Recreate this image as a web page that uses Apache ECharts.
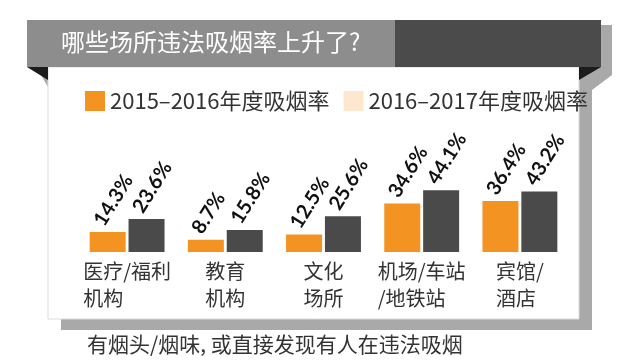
<!DOCTYPE html>
<html>
<head>
<meta charset="utf-8">
<script src="https://cdn.jsdelivr.net/npm/echarts@6/dist/echarts.min.js"></script>
<style>
html,body{margin:0;padding:0;background:#fff;}
#chart{width:640px;height:360px;}
</style>
</head>
<body>
<div id="chart"></div>
<script>
const titleText = '哪些场所违法吸烟率上升了?';
const footnote = '有烟头/烟味, 或直接发现有人在违法吸烟';
const categories = ['医疗/福利\n机构', '教育\n机构', '文化\n场所', '机场/车站\n/地铁站', '宾馆/\n酒店'];
const seriesNames = ['2015–2016年度吸烟率', '2016–2017年度吸烟率'];
const rate1516 = [14.3, 8.7, 12.5, 34.6, 36.4];
const rate1617 = [23.6, 15.8, 25.6, 44.1, 43.2];

const CJK = '"Noto Sans CJK SC", "Noto Sans", sans-serif';
const chart = echarts.init(document.getElementById('chart'), null, {renderer: 'canvas'});

const barLabel = {
  show: true,
  position: [9, -8],
  align: 'left',
  verticalAlign: 'middle',
  rotate: 58,
  color: '#111',
  fontFamily: 'Lato, "DejaVu Sans", sans-serif',
  fontWeight: 'bold',
  fontSize: 20,
  formatter: p => p.value + '%'
};

chart.setOption({
  backgroundColor: '#ffffff',
  animation: false,
  graphic: [
    {type: 'rect', z: 0, shape: {x: 40, y: 25, width: 572, height: 50}, style: {fill: '#a9a9a9'}},
    {type: 'polygon', z: 0, shape: {points: [[579, 75], [612, 75], [592, 90], [579, 90]]}, style: {fill: '#a9a9a9'}},
    {type: 'rect', z: 0, shape: {x: 61, y: 75, width: 531, height: 255}, style: {fill: '#a9a9a9'}},
    {type: 'polygon', z: 0, shape: {points: [[38, 70], [48, 76], [48, 87]]}, style: {fill: '#a9a9a9'}},
    {type: 'rect', z: 0, shape: {x: 48, y: 67, width: 531, height: 252}, style: {fill: '#ffffff', stroke: '#dcdcdc', lineWidth: 1}},
    {type: 'rect', z: 0, shape: {x: 27, y: 20, width: 368, height: 47}, style: {fill: '#8d8d8d'}},
    {type: 'rect', z: 0, shape: {x: 395, y: 20, width: 206, height: 47}, style: {fill: '#4b4b4b'}},
    {type: 'polygon', z: 0, shape: {points: [[27, 67], [48, 67], [48, 80]]}, style: {fill: '#1c1c1c'}},
    {type: 'polygon', z: 0, shape: {points: [[579, 67], [601, 67], [579, 80]]}, style: {fill: '#1c1c1c'}}
  ],
  title: [
    {text: titleText, left: 61, top: 30, padding: 0,
     textStyle: {color: '#ffffff', fontSize: 24, fontWeight: 'normal', fontFamily: CJK}},
    {text: footnote, left: 87, top: 334, padding: 0,
     textStyle: {color: '#333333', fontSize: 21, fontWeight: 'normal', fontFamily: CJK}}
  ],
  legend: {
    left: 85, top: 90, padding: 0,
    icon: 'rect', itemWidth: 20, itemHeight: 20, itemGap: 14,
    textStyle: {color: '#333333', fontSize: 22, fontFamily: CJK},
    data: [
      {name: seriesNames[0], itemStyle: {color: '#f39322'}},
      {name: seriesNames[1], itemStyle: {color: '#fde8cf'}}
    ]
  },
  grid: {left: 78, right: 71, top: 182, bottom: 108, containLabel: false},
  xAxis: {
    type: 'category',
    data: categories,
    axisLine: {show: false},
    axisTick: {show: false},
    axisLabel: {
      margin: 6,
      interval: 0,
      formatter: v => v.split('\n').map(l => '{a|' + l + '}').join('\n'),
      rich: {a: {align: 'left', fontSize: 20, lineHeight: 27, color: '#333333', fontFamily: CJK}}
    }
  },
  yAxis: {type: 'value', min: 0, max: 50, show: false, splitLine: {show: false}},
  series: [
    {name: seriesNames[0], type: 'bar', data: rate1516, barWidth: 36, barGap: '8%',
     itemStyle: {color: '#f39322'}, label: barLabel},
    {name: seriesNames[1], type: 'bar', data: rate1617, barWidth: 36,
     itemStyle: {color: '#4a4a4a'}, label: barLabel}
  ]
});
</script>
</body>
</html>
